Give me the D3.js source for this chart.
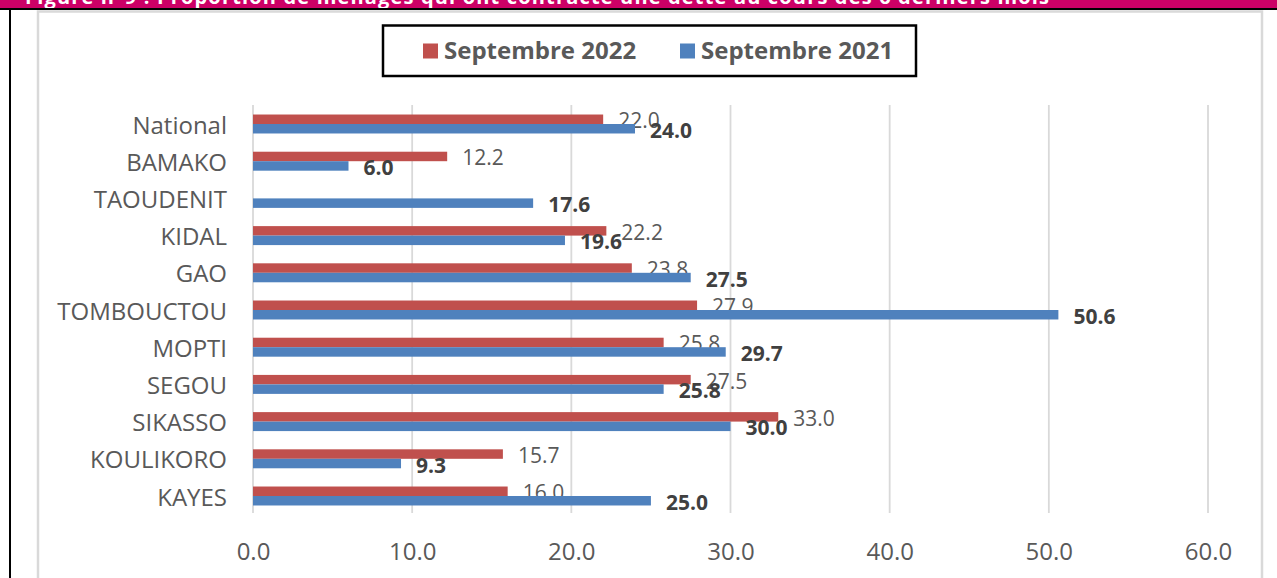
<!DOCTYPE html>
<html>
<head>
<meta charset="utf-8">
<script src="https://cdn.jsdelivr.net/npm/d3@7"></script>
<style>
  html, body { margin: 0; padding: 0; background: #fff; }
  svg { display: block; font-family: "Open Sans", "Noto Sans", sans-serif; }
</style>
</head>
<body>
<div id="chart"></div>
<script>
'use strict';

// regions, top to bottom as in the figure
var categories = ['National', 'BAMAKO', 'TAOUDENIT', 'KIDAL', 'GAO', 'TOMBOUCTOU',
  'MOPTI', 'SEGOU', 'SIKASSO', 'KOULIKORO', 'KAYES'];

// percentages per round (no 2022 value for Taoudenit)
var sept2022 = [22.0, 12.2, null, 22.2, 23.8, 27.9, 25.8, 27.5, 33.0, 15.7, 16.0];
var sept2021 = [24.0, 6.0, 17.6, 19.6, 27.5, 50.6, 29.7, 25.8, 30.0, 9.3, 25.0];

var seriesNames = ['Septembre 2022', 'Septembre 2021'];
var seriesColors = ['#C0504D', '#4F81BD'];
var xTicks = [0, 10, 20, 30, 40, 50, 60];

var title = 'Figure n°9 : Proportion de ménages qui ont contracté une dette au cours des 6 derniers mois';

var width = 1277;
var height = 578;

var svg = d3.select('#chart').append('svg')
  .attr('width', width)
  .attr('height', height);

// title banner, cut off at the top of the picture
svg.append('clipPath').attr('id', 'bannerClip')
  .append('rect').attr('x', 0).attr('y', 0).attr('width', width).attr('height', 8);

svg.append('rect')
  .attr('x', 0).attr('y', 0)
  .attr('width', width).attr('height', 8)
  .attr('fill', '#CC0066');

svg.append('text')
  .attr('clip-path', 'url(#bannerClip)')
  .attr('x', 25).attr('y', 4)
  .attr('textLength', 1024)
  .attr('lengthAdjust', 'spacing')
  .attr('fill', '#fff')
  .attr('font-weight', 'bold')
  .attr('font-size', 20)
  .text(title);

svg.append('rect')
  .attr('x', 0).attr('y', 8)
  .attr('width', width).attr('height', 2)
  .attr('fill', '#000');

svg.append('rect')
  .attr('x', 9).attr('y', 8)
  .attr('width', 2).attr('height', height - 8)
  .attr('fill', '#000');

// chart area frame
svg.append('rect')
  .attr('x', 38).attr('y', 11.5)
  .attr('width', 1224).attr('height', 600)
  .attr('fill', '#fff')
  .attr('stroke', '#d9d9d9')
  .attr('stroke-width', 2.5);

// scales
var x = d3.scaleLinear()
  .domain([0, 60])
  .range([253, 1208]);

var y = d3.scaleBand()
  .domain(categories)
  .range([105.4, 514.6])
  .paddingInner(0.49)
  .paddingOuter(0.245);

var ySub = d3.scaleBand()
  .domain(seriesNames)
  .range([0, y.bandwidth()]);

// gridlines
svg.append('g')
  .selectAll('line')
  .data(xTicks)
  .enter()
  .append('line')
    .attr('x1', function (d) { return x(d); })
    .attr('x2', function (d) { return x(d); })
    .attr('y1', 105)
    .attr('y2', 513)
    .attr('stroke', '#d9d9d9')
    .attr('stroke-width', 1.8);

// x axis labels
var xAxis = svg.append('g')
  .attr('transform', 'translate(0,533)')
  .call(d3.axisBottom(x).tickValues(xTicks).tickFormat(d3.format('.1f')).tickSize(0).tickPadding(0));

xAxis.select('.domain').remove();
xAxis.selectAll('text')
  .attr('dy', null)
  .attr('y', 27)
  .attr('font-family', '"Open Sans", sans-serif')
  .attr('font-size', 24)
  .attr('fill', '#595959');

// y axis labels
var yAxis = svg.append('g')
  .attr('transform', 'translate(227,0)')
  .call(d3.axisLeft(y).tickSize(0).tickPadding(0));

yAxis.select('.domain').remove();
yAxis.selectAll('text')
  .attr('dy', null)
  .attr('dominant-baseline', 'central')
  .attr('font-family', '"Open Sans", sans-serif')
  .attr('font-size', 24)
  .attr('fill', '#595959');

// bars and value labels
var series = [sept2022, sept2021];

series.forEach(function (values, s) {
  var rows = categories.map(function (c, i) {
    return { cat: c, value: values[i] };
  }).filter(function (d) { return d.value !== null; });

  var g = svg.append('g');

  g.selectAll('rect')
    .data(rows)
    .enter()
    .append('rect')
      .attr('x', x(0))
      .attr('y', function (d) { return y(d.cat) + ySub(seriesNames[s]); })
      .attr('width', function (d) { return x(d.value) - x(0); })
      .attr('height', ySub.bandwidth())
      .attr('fill', seriesColors[s]);

  g.selectAll('text')
    .data(rows)
    .enter()
    .append('text')
      .attr('x', function (d) { return x(d.value) + 15; })
      .attr('y', function (d) { return y(d.cat) + ySub(seriesNames[s]) + ySub.bandwidth() / 2 + 1; })
      .attr('dominant-baseline', 'central')
      .attr('font-size', 21)
      .attr('font-weight', s === 1 ? 'bold' : 'normal')
      .attr('fill', s === 1 ? '#404040' : '#595959')
      .text(function (d) { return d3.format('.1f')(d.value); });
});

// legend
var legend = svg.append('g');

legend.append('rect')
  .attr('x', 383).attr('y', 25.5)
  .attr('width', 533).attr('height', 50.5)
  .attr('fill', '#fff')
  .attr('stroke', '#000')
  .attr('stroke-width', 2.5);

var legendX = [423, 680];

var items = legend.selectAll('g.item')
  .data(seriesNames)
  .enter()
  .append('g')
    .attr('class', 'item')
    .attr('transform', function (d, i) { return 'translate(' + legendX[i] + ',0)'; });

items.append('rect')
  .attr('x', 0).attr('y', 43.5)
  .attr('width', 15).attr('height', 15)
  .attr('fill', function (d, i) { return seriesColors[i]; });

items.append('text')
  .attr('x', 21).attr('y', 59)
  .attr('font-size', 24)
  .attr('font-weight', 'bold')
  .attr('fill', '#595959')
  .text(function (d) { return d; });
</script>
</body>
</html>
